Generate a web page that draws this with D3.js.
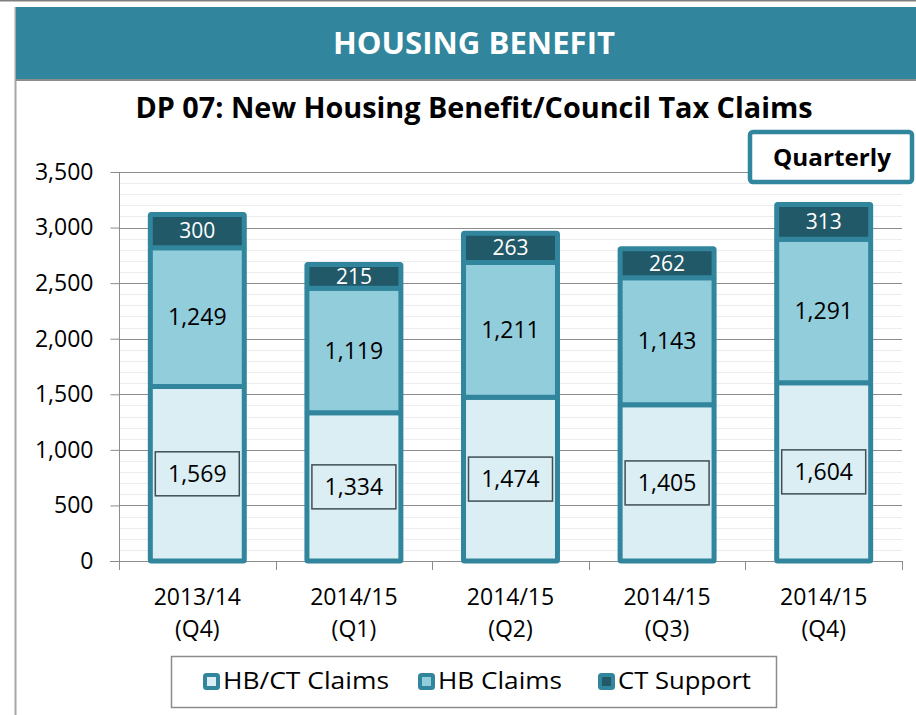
<!DOCTYPE html>
<html>
<head>
<meta charset="utf-8">
<script src="https://cdn.jsdelivr.net/npm/d3@7"></script>
<style>
  body { margin: 0; background: #fff; }
  svg { display: block; font-family: "Open Sans", sans-serif; }
</style>
</head>
<body>
<div id="chart"></div>
<script>
// data
var periods  = ["2013/14", "2014/15", "2014/15", "2014/15", "2014/15"];
var quarters = ["(Q4)", "(Q1)", "(Q2)", "(Q3)", "(Q4)"];
var hbctClaims = [1569, 1334, 1474, 1405, 1604];
var hbClaims   = [1249, 1119, 1211, 1143, 1291];
var ctSupport  = [300, 215, 263, 262, 313];
var seriesNames = ["HB/CT Claims", "HB Claims", "CT Support"];
var yTicks = [0, 500, 1000, 1500, 2000, 2500, 3000, 3500];

var W = 916, H = 715;
var teal = "#31859c";
var fills = ["#daeef3", "#92cddc", "#215968"];

var svg = d3.select("#chart").append("svg")
    .attr("width", W)
    .attr("height", H);

// page frame and header band
svg.append("line").attr("x1", 0).attr("x2", W).attr("y1", 0.5).attr("y2", 0.5)
    .attr("stroke", "#7f7f7f").attr("stroke-width", 2);
svg.append("line").attr("x1", 15.5).attr("x2", 15.5).attr("y1", 7).attr("y2", H)
    .attr("stroke", "#a6a6a6").attr("stroke-width", 2);
svg.append("rect").attr("x", 16).attr("y", 7).attr("width", W - 16).attr("height", 72)
    .attr("fill", teal);
svg.append("line").attr("x1", 16).attr("x2", W).attr("y1", 80).attr("y2", 80)
    .attr("stroke", "#8c8c8c").attr("stroke-width", 2);
svg.append("text")
    .attr("x", 474).attr("y", 54)
    .attr("text-anchor", "middle")
    .attr("fill", "#fff")
    .attr("font-size", 31).attr("font-weight", 700)
    .attr("textLength", 282).attr("lengthAdjust", "spacingAndGlyphs")
    .text("HOUSING BENEFIT");

// chart title
svg.append("text")
    .attr("x", 474).attr("y", 118)
    .attr("text-anchor", "middle")
    .attr("fill", "#000")
    .attr("font-size", 28).attr("font-weight", 700)
    .attr("textLength", 677).attr("lengthAdjust", "spacingAndGlyphs")
    .text("DP 07: New Housing Benefit/Council Tax Claims");

// scales
var plotL = 119, plotR = 902, plotT = 172, plotB = 561;
var x = d3.scaleBand()
    .domain(d3.range(periods.length))
    .range([plotL, plotR])
    .paddingInner(0.4)
    .paddingOuter(0.2);
var y = d3.scaleLinear().domain([0, 3500]).range([plotB, plotT]);

// minor gridlines every 100
svg.append("g")
  .selectAll("line")
  .data(d3.range(100, 3500, 100).filter(function(v) { return v % 500 !== 0; }))
  .enter().append("line")
    .attr("x1", plotL).attr("x2", plotR)
    .attr("y1", function(d) { return Math.round(y(d)) + 0.5; })
    .attr("y2", function(d) { return Math.round(y(d)) + 0.5; })
    .attr("stroke", "#ececec");

// major gridlines
svg.append("g")
  .selectAll("line")
  .data(yTicks.slice(1))
  .enter().append("line")
    .attr("x1", plotL).attr("x2", plotR)
    .attr("y1", function(d) { return Math.round(y(d)) + 0.5; })
    .attr("y2", function(d) { return Math.round(y(d)) + 0.5; })
    .attr("stroke", "#8c8c8c");

// y axis
var yAxis = svg.append("g")
    .attr("transform", "translate(" + (plotL + 0.5) + ",0)")
    .call(d3.axisLeft(y).tickValues(yTicks).tickSize(9).tickPadding(17)
      .tickFormat(d3.format(",")));
yAxis.select(".domain").attr("stroke", "#8c8c8c").attr("d", "M0," + y(0) + "V" + y(3500));
yAxis.selectAll(".tick line").attr("stroke", "#8c8c8c");
yAxis.selectAll(".tick text")
    .attr("font-size", 23).attr("fill", "#000")
    .attr("font-family", "Open Sans, sans-serif");

// x axis: baseline and tick marks at category boundaries
var xg = svg.append("g");
xg.append("line")
    .attr("x1", plotL - 9).attr("x2", plotR)
    .attr("y1", plotB + 0.5).attr("y2", plotB + 0.5)
    .attr("stroke", "#8c8c8c");
xg.selectAll(".bound")
  .data(d3.range(periods.length + 1))
  .enter().append("line")
    .attr("x1", function(i) { return Math.round(plotL + i * x.step()) + 0.5; })
    .attr("x2", function(i) { return Math.round(plotL + i * x.step()) + 0.5; })
    .attr("y1", plotB).attr("y2", plotB + 9)
    .attr("stroke", "#8c8c8c");
var xl = xg.selectAll(".lbl")
  .data(d3.range(periods.length))
  .enter().append("text")
    .attr("text-anchor", "middle")
    .attr("font-size", 23)
    .attr("fill", "#000");
xl.append("tspan")
    .attr("x", function(i) { return x(i) + x.bandwidth() / 2; })
    .attr("y", 605)
    .text(function(i) { return periods[i]; });
xl.append("tspan")
    .attr("x", function(i) { return x(i) + x.bandwidth() / 2; })
    .attr("y", 637)
    .text(function(i) { return quarters[i]; });

// stacked bars
var rows = d3.range(periods.length).map(function(i) {
  return { i: i, a: hbctClaims[i], b: hbClaims[i], c: ctSupport[i] };
});
var stack = d3.stack().keys(["a", "b", "c"]);
var layers = stack(rows);

var layer = svg.append("g").selectAll("g")
  .data(layers)
  .enter().append("g")
    .attr("fill", function(d, k) { return fills[k]; });

layer.selectAll("rect")
  .data(function(d) { return d; })
  .enter().append("rect")
    .attr("x", function(d) { return x(d.data.i); })
    .attr("width", x.bandwidth())
    .attr("y", function(d) { return y(d[1]); })
    .attr("height", function(d) { return y(d[0]) - y(d[1]); })
    .attr("stroke", teal)
    .attr("stroke-width", 5)
    .attr("rx", 1);

// labels: HB/CT in boxes
var lab = svg.append("g");
var boxW = 84, boxH = 44;
lab.selectAll(".boxa")
  .data(layers[0])
  .enter().append("rect")
    .attr("x", function(d) { return x(d.data.i) + x.bandwidth() / 2 - boxW / 2; })
    .attr("y", function(d) { return y((d[0] + d[1]) / 2) - boxH / 2; })
    .attr("width", boxW).attr("height", boxH)
    .attr("fill", fills[0])
    .attr("stroke", "#3f4f55").attr("stroke-width", 1.5);

layers.forEach(function(L, k) {
  lab.selectAll(".l" + k)
    .data(L)
    .enter().append("text")
      .attr("x", function(d) { return x(d.data.i) + x.bandwidth() / 2; })
      .attr("y", function(d) { return y((d[0] + d[1]) / 2); })
      .attr("dy", "0.35em")
      .attr("text-anchor", "middle")
      .attr("font-size", k === 2 ? 21 : 23)
      .attr("fill", k === 2 ? "#fff" : "#000")
      .text(function(d) { return d3.format(",")(d[1] - d[0]); });
});

// "Quarterly" box
svg.append("rect")
    .attr("x", 750).attr("y", 132).attr("width", 162).attr("height", 50)
    .attr("rx", 3)
    .attr("fill", "#fff").attr("stroke", teal).attr("stroke-width", 4.5);
svg.append("text")
    .attr("x", 832).attr("y", 166)
    .attr("text-anchor", "middle")
    .attr("font-size", 23).attr("font-weight", 700)
    .attr("textLength", 118).attr("lengthAdjust", "spacingAndGlyphs")
    .text("Quarterly");

// legend
var lg = svg.append("g");
lg.append("rect")
    .attr("x", 171.5).attr("y", 656.5).attr("width", 605).attr("height", 51)
    .attr("fill", "#fff").attr("stroke", "#8c8c8c").attr("stroke-width", 1.5);
var legX = [203, 418, 598];
var legW = [166, 124, 133];
var item = lg.selectAll(".item")
  .data(seriesNames)
  .enter().append("g")
    .attr("transform", function(d, k) { return "translate(" + legX[k] + ",673)"; });
item.append("rect")
    .attr("x", 2).attr("y", 2).attr("width", 13).attr("height", 13)
    .attr("rx", 1.5)
    .attr("fill", function(d, k) { return fills[k]; })
    .attr("stroke", teal).attr("stroke-width", 4);
item.append("text")
    .attr("x", 20).attr("y", 8)
    .attr("dy", "0.35em")
    .attr("font-size", 23)
    .attr("textLength", function(d, k) { return legW[k]; })
    .attr("lengthAdjust", "spacingAndGlyphs")
    .text(function(d) { return d; });
</script>
</body>
</html>
